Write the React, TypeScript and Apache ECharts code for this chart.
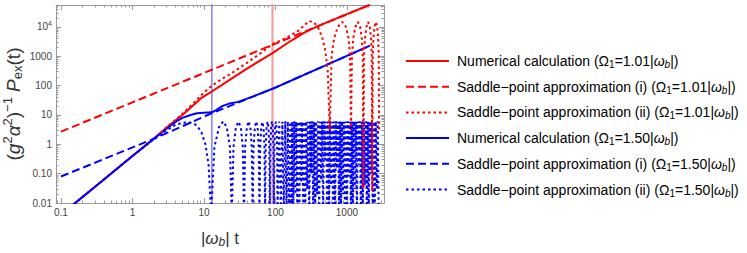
import React, { useEffect, useRef } from 'react';
import * as echarts from 'echarts';

// ---------- axis ranges & ticks ----------
const X_MIN = 0.0852;
const X_MAX = 3300;
const Y_MIN = 0.01;
const Y_MAX = 56000;

const X_TICKS = [0.1, 1, 10, 100, 1000];
const X_TICK_LABELS = ['0.1', '1', '10', '100', '1000'];
const Y_TICKS = [0.01, 0.1, 1, 10, 100, 1000, 10000];
const Y_TICK_LABELS = ['0.01', '0.10', '1', '10', '100', '1000', '10{sup|4}'];
const MINOR_STEPS = [2, 3, 4, 5, 6, 7, 8, 9];
const X_DECADES = [0.01, 0.1, 1, 10, 100, 1000];
const Y_DECADES = [0.001, 0.01, 0.1, 1, 10, 100, 1000, 10000];

// vertical reference lines (|omega_b| t)
const MARKER_BLUE_X = 12.9;
const MARKER_RED_X = 91;

// ---------- series data ([|omega_b| t, value]) ----------
const RED_SOLID: [number, number][] = [
  [0.1, 0.004], [0.3, 0.036], [1, 0.4], [2, 1.6], [3, 3.7], [5, 10], [9.2, 38], [12.9, 63],
  [24, 170], [40, 380], [60, 700], [91, 1290], [150, 2900], [200, 4500], [250, 6300],
  [300, 7900], [350, 9300], [400, 10900], [600, 16400], [1000, 27300], [2100, 57000],
];
const RED_DASHED: [number, number][] = [
  [0.1, 2.7], [12.9, 348], [91, 2457], [310, 8370], [2100, 56700],
];
const RED_DOTTED: [number, number][] = [
  [2.5, 2.5], [3, 3.8], [4, 6.8], [5, 11], [7, 24], [9.2, 48], [12.9, 100], [18, 170],
  [24, 260], [40, 600], [60, 1200], [91, 2630], [120, 3500], [150, 4600], [200, 6800],
  [250, 11000], [294, 16000], [350, 14000], [400, 9000], [450, 4500], [500, 1500], [540, 300],
  [575, 3], [610, 1000], [660, 4000], [745, 10000], [860, 15000], [970, 10000], [1055, 4000], [1105, 1000],
  [1140, 3], [1175, 1000], [1225, 4000], [1310, 10000], [1420, 15000], [1530, 10000], [1615, 4000], [1665, 1000],
  [1700, 0.03], [1735, 1000], [1785, 4000], [1870, 10000], [1980, 15000], [2090, 10000], [2175, 4000], [2225, 1000],
  [2260, 0.025], [2295, 1000], [2345, 4000], [2430, 10000], [2540, 15000], [2650, 10000], [2735, 4000], [2785, 1000],
  [2820, 3],
];
const BLUE_SOLID: [number, number][] = [
  [0.1, 0.004], [0.3, 0.036], [1, 0.4], [2, 1.55], [3, 3.4], [4, 5.8], [5, 8], [6.5, 10],
  [8, 11.5], [10, 12], [12.9, 12.3], [15, 15], [18, 20], [22, 24], [30, 28], [50, 44],
  [91, 78], [2100, 2300],
];
const BLUE_DASHED: [number, number][] = [
  [0.1, 0.08], [2, 1.55], [12.9, 11.5], [91, 78], [2100, 2300],
];
const BLUE_DOTTED: [number, number][] = [
  [0.1, 0.004], [0.3, 0.036], [1, 0.4], [2, 1.5], [3, 3.0], [4, 4.6], [5, 5.4], [6, 5.6],
  [7, 5.3], [8, 4.3], [9.2, 2.6], [10.5, 1.0], [11.6, 0.2], [12.6, 0.004],
  [14.0, 0.8], [16.2, 3.8], [18.55, 6.0], [20.9, 3.8], [23.1, 0.8], [24.5, 0.004],
  [25.9, 0.8], [28.0, 3.8], [30.4, 5.9], [32.8, 3.8], [34.9, 0.8], [36.3, 0.004],
  [37.7, 0.8], [39.8, 3.8], [42.15, 6.1], [44.5, 3.8], [46.6, 0.8], [48, 0.004],
  [49.4, 0.8], [51.5, 3.8], [53.9, 6.0], [56.3, 3.8], [58.4, 0.8], [59.8, 0.004],
  [61.2, 0.8], [63.3, 3.8], [65.7, 5.8], [68.1, 3.8], [70.2, 0.8], [71.6, 0.004],
  [73.0, 0.8], [75.2, 3.8], [77.5, 6.0], [79.9, 3.8], [82.1, 0.8], [83.5, 0.004],
  [84.9, 0.8], [87.0, 3.8], [89.4, 6.1], [91.8, 3.8], [93.9, 0.8], [95.3, 0.004],
  [96.7, 0.8], [98.8, 3.8], [101.2, 5.9], [103.5, 3.8], [105.6, 0.8], [107, 0.004],
  [113, 6.0], [119, 0.004], [125, 5.9], [131, 0.004], [137, 6.1], [143, 0.004],
  [149, 6.0], [155, 0.004], [161, 5.8], [167, 0.004], [172, 6.0], [178, 0.004],
  [184, 6.1], [190, 0.02], [196, 5.9], [202, 0.004], [209, 6.0], [216, 0.004],
  [223, 6.1], [230, 0.05], [237, 5.9], [245, 0.004], [253, 6.0], [261, 0.004],
  [270, 6.1], [278, 0.03], [287, 5.9], [297, 0.004], [306, 6.0], [316, 0.1],
  [326, 6.1], [337, 0.004], [348, 5.9], [360, 0.004], [371, 6.0], [383, 0.02],
  [396, 6.1], [409, 0.004], [422, 5.9], [436, 0.06], [450, 6.0], [464, 0.004],
  [480, 6.1], [495, 0.3], [511, 5.9], [528, 0.004], [545, 6.0], [563, 0.004],
  [581, 6.1], [600, 0.04], [620, 5.9], [640, 0.004], [661, 6.0], [682, 0.004],
  [704, 6.1], [727, 0.15], [751, 5.9], [775, 0.004], [800, 6.0], [826, 0.004],
  [853, 6.1], [880, 0.02], [909, 5.9], [938, 0.004], [969, 6.0], [1000, 0.004],
  [1033, 6.1], [1066, 0.08], [1101, 5.9], [1137, 0.004], [1174, 6.0], [1212, 0.004],
  [1252, 6.1], [1292, 0.03], [1334, 5.9], [1377, 0.004], [1422, 6.0], [1468, 0.2],
  [1516, 6.1], [1565, 0.004], [1616, 5.9], [1668, 0.004], [1723, 6.0], [1778, 0.04],
  [1837, 6.1], [1896, 0.004], [1958, 5.9], [2021, 0.004], [2087, 6.0], [2154, 0.1],
  [2225, 6.1], [2296, 0.004], [2372, 5.9], [2448, 0.004], [2529, 6.0], [2610, 0.03],
  [2696, 6.1], [2782, 0.004],
];

// ---------- names ----------
const SERIES_NAMES = [
  'Numerical calculation (Ω1=1.01|ωb|)',
  'Saddle−point approximation (i) (Ω1=1.01|ωb|)',
  'Saddle−point approximation (ii) (Ω1=1.01|ωb|)',
  'Numerical calculation (Ω1=1.50|ωb|)',
  'Saddle−point approximation (i) (Ω1=1.50|ωb|)',
  'Saddle−point approximation (ii) (Ω1=1.50|ωb|)',
];
const LEGEND_LABELS = [
  'Numerical calculation (Ω{sub|1}=1.01|{it|ω}{subit|b}|)',
  'Saddle−point approximation (i) (Ω{sub|1}=1.01|{it|ω}{subit|b}|)',
  'Saddle−point approximation (ii) (Ω{sub|1}=1.01|{it|ω}{subit|b}|)',
  'Numerical calculation (Ω{sub|1}=1.50|{it|ω}{subit|b}|)',
  'Saddle−point approximation (i) (Ω{sub|1}=1.50|{it|ω}{subit|b}|)',
  'Saddle−point approximation (ii) (Ω{sub|1}=1.50|{it|ω}{subit|b}|)',
];
const X_TITLE = '|{it|ω}{subit|b}| t';
const Y_TITLE = '({it|g}{sup|2}{it|α}{sup|2}){sup|−1} {it|P}{sub|ex}(t)';

const RED = '#ff0000';
const BLUE = '#0000ff';
const FRAME = '#999999';
const LABEL = '#444444';
const FONT = '"Liberation Sans", Arial, Helvetica, sans-serif';

const minorValues = (decades: number[], lo: number, hi: number) => {
  const out: number[] = [];
  decades.forEach((d) => MINOR_STEPS.forEach((m) => {
    const v = d * m;
    if (v > lo && v < hi) out.push(v);
  }));
  return out;
};

const matchTick = (v: number, ticks: number[], labels: string[]) => {
  for (let i = 0; i < ticks.length; i++) {
    if (Math.abs(Math.log10(v) - Math.log10(ticks[i])) < 1e-6) return labels[i];
  }
  return '';
};

export default function App() {
  const ref = useRef<HTMLDivElement>(null);

  useEffect(() => {
    if (!ref.current) return;
    const chart = echarts.init(ref.current, undefined, { renderer: 'svg' });
    const xMinor = minorValues(X_DECADES, X_MIN, X_MAX);
    const yMinor = minorValues(Y_DECADES, Y_MIN, Y_MAX);

    const baseX = (position: 'bottom' | 'top', major: boolean, extra: any = {}) => ({
      type: 'log', logBase: 10, min: X_MIN, max: X_MAX, position,
      axisLine: { show: major, onZero: false, lineStyle: { color: FRAME, width: 1 } },
      axisTick: {
        show: true, inside: true, length: major ? 5 : 2.5,
        customValues: major ? X_TICKS : xMinor,
        lineStyle: { color: FRAME, width: 1 },
      },
      axisLabel: { show: false },
      splitLine: { show: false },
      minorTick: { show: false },
      ...extra,
    });
    const baseY = (position: 'left' | 'right', major: boolean, extra: any = {}) => ({
      type: 'log', logBase: 10, min: Y_MIN, max: Y_MAX, position,
      axisLine: { show: major, onZero: false, lineStyle: { color: FRAME, width: 1 } },
      axisTick: {
        show: true, inside: true, length: major ? 5 : 2.5,
        customValues: major ? Y_TICKS : yMinor,
        lineStyle: { color: FRAME, width: 1 },
      },
      axisLabel: { show: false },
      splitLine: { show: false },
      minorTick: { show: false },
      ...extra,
    });

    const line = (name: string, data: [number, number][], color: string, type: any, z: number) => ({
      name, type: 'line', data, xAxisIndex: 0, yAxisIndex: 0,
      symbol: 'none', showSymbol: false, clip: true, z,
      lineStyle: { color, width: 2, type },
      itemStyle: { color },
    });

    const option: any = {
      animation: false,
      textStyle: { fontFamily: FONT },
      grid: { left: 53, right: 363, top: 5, bottom: 43, containLabel: false },
      legend: {
        data: SERIES_NAMES,
        orient: 'vertical',
        left: 405, top: 54, padding: 0,
        itemWidth: 43, itemHeight: 14, itemGap: 10.2,
        itemStyle: { opacity: 0 },
        formatter: (n: string) => LEGEND_LABELS[SERIES_NAMES.indexOf(n)],
        textStyle: {
          fontFamily: FONT, fontSize: 14, color: '#000', padding: [0, 0, 0, 3],
          rich: {
            sub: { fontFamily: FONT, fontSize: 10, color: '#000', padding: [7, 0, 0, 0] },
            subit: { fontFamily: FONT, fontSize: 10, fontStyle: 'italic', color: '#000', padding: [7, 0, 0, 0] },
            it: { fontFamily: FONT, fontSize: 14, fontStyle: 'italic', color: '#000' },
          },
        },
      },
      xAxis: [
        baseX('bottom', true, {
          axisLabel: {
            show: true, customValues: X_TICKS, margin: 4, fontSize: 10, color: LABEL, fontFamily: FONT,
            formatter: (v: number) => matchTick(v, X_TICKS, X_TICK_LABELS),
          },
          name: X_TITLE, nameLocation: 'middle', nameGap: 25,
          nameTextStyle: {
            fontFamily: FONT, fontSize: 17, color: '#333',
            rich: {
              it: { fontFamily: FONT, fontSize: 17, fontStyle: 'italic', color: '#333' },
              subit: { fontFamily: FONT, fontSize: 12, fontStyle: 'italic', color: '#333', padding: [8, 0, 0, 0] },
            },
          },
        }),
        baseX('bottom', false),
        baseX('top', true),
        baseX('top', false),
      ],
      yAxis: [
        baseY('left', true, {
          axisLabel: {
            show: true, customValues: Y_TICKS, margin: 4, fontSize: 10, color: LABEL, fontFamily: FONT,
            formatter: (v: number) => matchTick(v, Y_TICKS, Y_TICK_LABELS),
            rich: { sup: { fontFamily: FONT, fontSize: 7, color: LABEL, padding: [0, 0, 7, 0] } },
          },
          name: Y_TITLE, nameLocation: 'middle', nameGap: 31, nameRotate: 90,
          nameTextStyle: {
            fontFamily: FONT, fontSize: 19, color: '#333',
            rich: {
              it: { fontFamily: FONT, fontSize: 19, fontStyle: 'italic', color: '#333' },
              sup: { fontFamily: FONT, fontSize: 13, color: '#333', padding: [0, 0, 11, 0] },
              sub: { fontFamily: FONT, fontSize: 13, color: '#333', padding: [8, 0, 0, 0] },
            },
          },
        }),
        baseY('left', false),
        baseY('right', true),
        baseY('right', false),
      ],
      series: [
        {
          name: 'marker-blue', type: 'line', symbol: 'none', clip: true, z: 1,
          data: [[MARKER_BLUE_X, Y_MIN / 10], [MARKER_BLUE_X, Y_MAX * 10]],
          lineStyle: { color: '#7f7fff', width: 1.5 },
        },
        {
          name: 'marker-red', type: 'line', symbol: 'none', clip: true, z: 1,
          data: [[MARKER_RED_X, Y_MIN / 10], [MARKER_RED_X, Y_MAX * 10]],
          lineStyle: { color: '#f4a0a0', width: 2.2 },
        },
        line(SERIES_NAMES[0], RED_SOLID, RED, 'solid', 2),
        line(SERIES_NAMES[1], RED_DASHED, RED, [8, 4], 2),
        line(SERIES_NAMES[3], BLUE_SOLID, BLUE, 'solid', 3),
        line(SERIES_NAMES[4], BLUE_DASHED, BLUE, [8, 4], 3),
        line(SERIES_NAMES[5], BLUE_DOTTED, BLUE, [2.5, 3], 3),
        line(SERIES_NAMES[2], RED_DOTTED, RED, [2.5, 3], 4),
      ],
    };
    chart.setOption(option);
    return () => chart.dispose();
  }, []);

  return (
    <div
      ref={ref}
      style={{ position: 'fixed', left: 0, top: 0, width: 747, height: 253, background: '#fff' }}
    />
  );
}
